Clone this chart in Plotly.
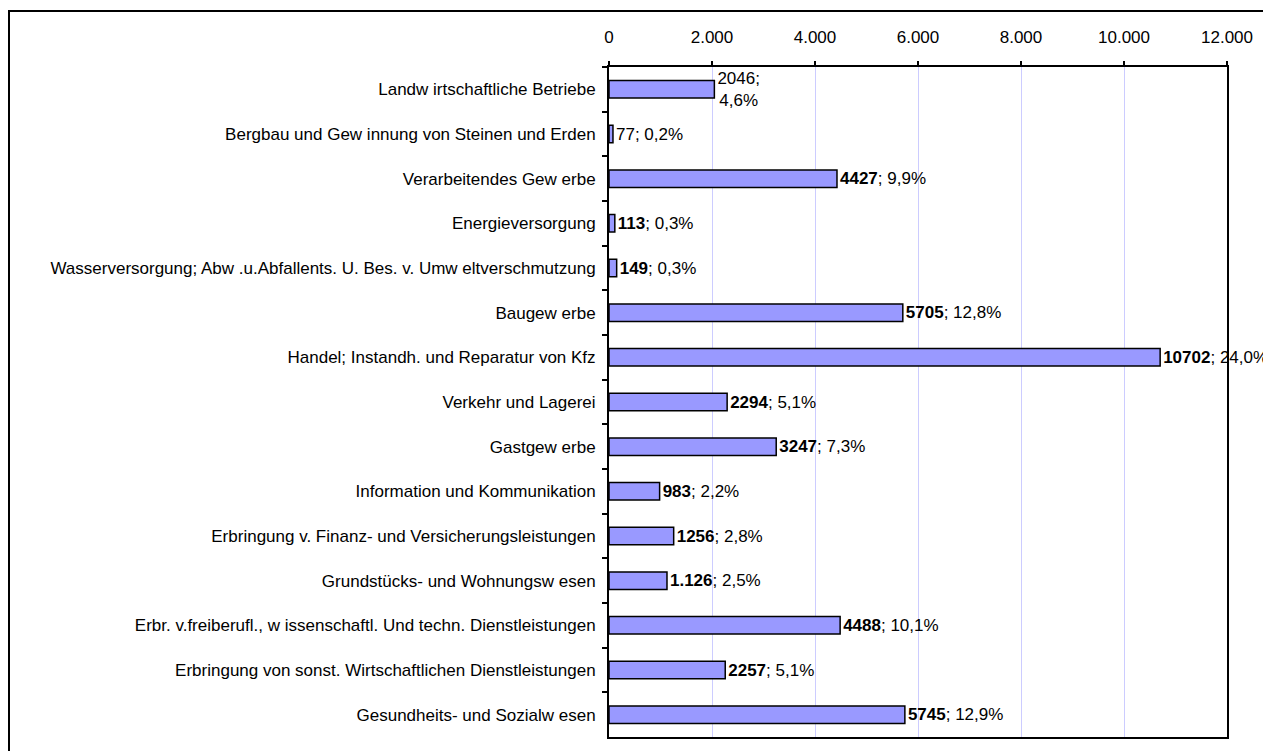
import plotly.graph_objects as go

categories = [
    "Landw irtschaftliche Betriebe",
    "Bergbau und Gew innung von Steinen und Erden",
    "Verarbeitendes Gew erbe",
    "Energieversorgung",
    "Wasserversorgung; Abw .u.Abfallents. U. Bes. v. Umw eltverschmutzung",
    "Baugew erbe",
    "Handel; Instandh. und Reparatur von Kfz",
    "Verkehr und Lagerei",
    "Gastgew erbe",
    "Information und Kommunikation",
    "Erbringung v. Finanz- und Versicherungsleistungen",
    "Grundstücks- und Wohnungsw esen",
    "Erbr. v.freiberufl., w issenschaftl. Und techn. Dienstleistungen",
    "Erbringung von sonst. Wirtschaftlichen Dienstleistungen",
    "Gesundheits- und Sozialw esen",
]
values = [2046, 77, 4427, 113, 149, 5705, 10702, 2294, 3247, 983, 1256, 1126, 4488, 2257, 5745]
value_labels = ["2046", "77", "4427", "113", "149", "5705", "10702", "2294", "3247",
                "983", "1256", "1.126", "4488", "2257", "5745"]
percent_labels = ["4,6%", "0,2%", "9,9%", "0,3%", "0,3%", "12,8%", "24,0%", "5,1%", "7,3%",
                  "2,2%", "2,8%", "2,5%", "10,1%", "5,1%", "12,9%"]
bold_value = [False, False, True, True, True, True, True, True, True, True, True, True, True, True, True]
wrap_label = [True] + [False] * 14
x_ticks = [0, 2000, 4000, 6000, 8000, 10000, 12000]
x_tick_labels = ["0", "2.000", "4.000", "6.000", "8.000", "10.000", "12.000"]

texts = []
for v, p, b, w in zip(value_labels, percent_labels, bold_value, wrap_label):
    vs = f"<b>{v}</b>" if b else v
    sep = ";<br>" if w else "; "
    texts.append(vs + sep + p)

FONT = "Liberation Sans, Arial, sans-serif"
FS = 17

fig = go.Figure(go.Bar(
    y=categories,
    x=values,
    orientation="h",
    marker=dict(color="#9999FF", line=dict(color="#000000", width=1.5)),
    text=texts,
    textposition="outside",
    textfont=dict(family=FONT, size=FS, color="#000000"),
    cliponaxis=False,
    constraintext="none",
    hoverinfo="skip",
))

# page body has an 8px margin; figure sized to end at the window edge
W, H = 1263, 743
L, R, T, B = 601, 44, 59, 14
pw, ph = W - L - R, H - T - B

fig.update_layout(
    width=W, height=H,
    margin=dict(l=L, r=R, t=T, b=B, pad=0),
    paper_bgcolor="#FFFFFF",
    plot_bgcolor="#FFFFFF",
    bargap=0.61,
    showlegend=False,
    font=dict(family=FONT, size=FS, color="#000000"),
    xaxis=dict(
        side="top",
        range=[0, 12000],
        tickvals=x_ticks,
        ticktext=x_tick_labels,
        showgrid=True,
        gridcolor="#CCCCFF",
        gridwidth=1,
        zeroline=False,
        showline=True,
        linecolor="#000000",
        linewidth=2,
        mirror=True,
        ticks="outside",
        ticklen=4,
        tickcolor="#000000",
        tickwidth=1.5,
        ticklabelstandoff=11,
        tickfont=dict(family=FONT, size=FS, color="#000000"),
    ),
    yaxis=dict(
        type="category",
        categoryorder="array",
        categoryarray=categories,
        autorange="reversed",
        showgrid=False,
        showline=True,
        linecolor="#000000",
        linewidth=2,
        mirror=True,
        ticks="outside",
        tickson="boundaries",
        ticklen=5,
        tickcolor="#000000",
        tickwidth=1.5,
        ticklabelstandoff=8,
        tickfont=dict(family=FONT, size=FS, color="#000000"),
    ),
    shapes=[dict(
        type="rect", xref="paper", yref="paper",
        x0=(1 - L) / pw, x1=(W + 10 - L) / pw,
        y0=-(B + 10) / ph, y1=(H - B - 3) / ph,
        line=dict(color="#000000", width=2),
        fillcolor="rgba(0,0,0,0)",
        layer="above",
    )],
)

fig.write_html("out.html")
